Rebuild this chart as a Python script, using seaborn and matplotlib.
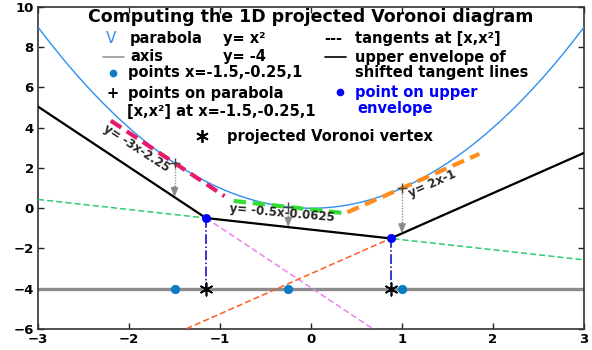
import numpy as np
import pandas as pd
import matplotlib
matplotlib.use("Agg")
import matplotlib.pyplot as plt
from matplotlib.lines import Line2D
import seaborn as sns

# ---- data ----
pts_x = [-1.5, -0.25, 1.0]                    # points on the axis
shifts = [1.7, 1.0, 2.25]                     # downward shift of each tangent line
seg_lo = [-2.2, -0.85, 0.4]                   # extent of the thick tangent segments
seg_hi = [-0.95, 0.35, 1.85]
axis_y = -4
thick_colors = ["#E8186A", "#33DD33", "#FF8C1A"]
thin_colors = ["#EE82EE", "#2ECC71", "#FF5A1F"]
eq_labels = ["y= -3x-2.25", "y= -0.5x-0.0625", "y= 2x-1"]
eq_pos_x = [-1.92, -0.32, 1.33]
eq_pos_y = [3.0, -0.25, 1.2]
eq_rot = [-33, -5, 24]
xticks = [-3, -2, -1, 0, 1, 2, 3]
yticks = [-6, -4, -2, 0, 2, 4, 6, 8, 10]

sns.set_style("ticks")
plt.rcParams["font.family"] = ["DejaVu Sans"]
plt.rcParams["font.weight"] = "bold"

fig = plt.figure(figsize=(5.92, 3.5), dpi=100)
ax = fig.add_axes([38 / 592, 1 - 329 / 350, (584 - 38) / 592, (329 - 7) / 350])

xs = np.linspace(-3, 3, 601)
LP = dict(ax=ax, estimator=None, sort=False)

# parabola
sns.lineplot(x=xs, y=xs ** 2, color="#2E8FF0", lw=1.0, zorder=4, **LP)

# axis line
sns.lineplot(x=[-3, 3], y=[axis_y, axis_y], color="#8C8C8C", lw=2.4, zorder=2, **LP)

slopes = [2 * p for p in pts_x]
icpts = [-p * p for p in pts_x]

# shifted tangent lines (thin dashed)
for m, b, s, c in zip(slopes, icpts, shifts, thin_colors):
    sns.lineplot(x=xs, y=m * xs + b - s, color=c, lw=1.1,
                 linestyle=(0, (4, 2)), zorder=3, **LP)

# tangent segments (thick dashed)
for m, b, lo, hi, c in zip(slopes, icpts, seg_lo, seg_hi, thick_colors):
    sx = np.array([lo, hi])
    sns.lineplot(x=sx, y=m * sx + b, color=c, lw=3.0,
                 linestyle=(0, (3, 1.6)), zorder=5, **LP)

# upper envelope of shifted lines
env = np.max([m * xs + b - s for m, b, s in zip(slopes, icpts, shifts)], axis=0)
sns.lineplot(x=xs, y=env, color="black", lw=1.6, zorder=6, **LP)

# envelope vertices
vx, vy = [], []
for i in range(len(pts_x) - 1):
    m1, b1 = slopes[i], icpts[i] - shifts[i]
    m2, b2 = slopes[i + 1], icpts[i + 1] - shifts[i + 1]
    x0 = (b2 - b1) / (m1 - m2)
    vx.append(x0)
    vy.append(m1 * x0 + b1)

for x0, y0 in zip(vx, vy):
    sns.lineplot(x=[x0, x0], y=[y0, axis_y], color="#0000B8", lw=1.1,
                 linestyle="-.", zorder=6, **LP)

# arrows from parabola points down to shifted lines
for p, s in zip(pts_x, shifts):
    ytop = p * p
    ybot = p * p - s
    sns.lineplot(x=[p, p], y=[ytop, ybot + 0.3], color="#9A9A9A", lw=1.0,
                 linestyle=(0, (1, 1)), zorder=5, **LP)
    ax.annotate("", xy=(p, ybot), xytext=(p, ybot + 0.55),
                arrowprops=dict(arrowstyle="-|>,head_length=0.55,head_width=0.22",
                                color="#8A8A8A", lw=1.0, shrinkA=0, shrinkB=0),
                zorder=6)

# markers
sns.scatterplot(x=pts_x, y=[p * p for p in pts_x], ax=ax, marker="+", s=60,
                color="#444444", linewidth=1.0, zorder=7)
sns.scatterplot(x=pts_x, y=[axis_y] * 3, ax=ax, marker="o", s=38,
                color="#0A7CC4", edgecolor="#0A7CC4", zorder=7)
sns.scatterplot(x=vx, y=vy, ax=ax, marker="o", s=36, color="#0000FF",
                edgecolor="#0000FF", zorder=8)
sns.scatterplot(x=vx, y=[axis_y] * len(vx), ax=ax, marker=(6, 2, 0), s=80,
                color="black", linewidth=1.2, zorder=8)

# equation labels
for t, x0, y0, r in zip(eq_labels, eq_pos_x, eq_pos_y, eq_rot):
    ax.text(x0, y0, t, fontsize=8.5, fontweight="bold", rotation=r,
            rotation_mode="anchor", ha="center", va="center", zorder=9)

ax.set_xlim(-3, 3)
ax.set_ylim(-6, 10)
ax.set_xticks(xticks)
ax.set_yticks(yticks)
ax.tick_params(direction="in", length=4, width=1.0, top=True, right=True,
               labelsize=9.5, pad=3, colors="#222222")
for lab in ax.get_xticklabels() + ax.get_yticklabels():
    lab.set_fontweight("bold")
    lab.set_color("black")
for sp in ax.spines.values():
    sp.set_visible(True)
    sp.set_color("#333333")
    sp.set_linewidth(1.2)
ax.set_xlabel("")
ax.set_ylabel("")

# ---- legend-like text block (figure pixel coordinates) ----
def F(px, py):
    return px / 592, 1 - py / 350

tk = dict(transform=fig.transFigure, fontweight="bold", fontsize=10.5, va="baseline",
          ha="left", color="black")
fig.text(*F(88, 22), "Computing the 1D projected Voronoi diagram", **{**tk, "fontsize": 12.5})
fig.text(*F(106, 43), "V", **{**tk, "fontweight": "normal", "color": "#2E8FF0", "fontsize": 11})
fig.text(*F(130, 43), "parabola", **tk)
fig.text(*F(223, 43), "y= x²", **tk)
fig.lines.append(Line2D([103 / 592, 124 / 592], [1 - 57 / 350] * 2, transform=fig.transFigure,
                        color="#9A9A9A", lw=1.2))
fig.text(*F(130, 61), "axis", **tk)
fig.text(*F(223, 61), "y= -4", **tk)
fig.lines.append(Line2D([113 / 592], [1 - 73 / 350], transform=fig.transFigure, marker="o",
                        ms=4.5, color="#0A7CC4", lw=0))
fig.text(*F(128, 77), "points x=-1.5,-0.25,1", **tk)
fig.text(*F(106, 98), "+", **tk)
fig.text(*F(128, 98), "points on parabola", **tk)
fig.text(*F(127, 116), "[x,x²] at x=-1.5,-0.25,1", **tk)
fig.lines.append(Line2D([202 / 592], [1 - 136 / 350], transform=fig.transFigure, marker=(6, 2, 0),
                        ms=9, color="black", mew=1.3, lw=0))
fig.text(*F(227, 141), "projected Voronoi vertex", **tk)

fig.text(*F(324, 43), "---", **tk)
fig.text(*F(355, 43), "tangents at [x,x²]", **tk)
fig.lines.append(Line2D([325 / 592, 346 / 592], [1 - 57 / 350] * 2, transform=fig.transFigure,
                        color="black", lw=1.2))
fig.text(*F(355, 62), "upper envelope of", **tk)
fig.text(*F(355, 77), "shifted tangent lines", **tk)
fig.lines.append(Line2D([340 / 592], [1 - 92 / 350], transform=fig.transFigure, marker="o",
                        ms=4.5, color="#0000FF", lw=0))
fig.text(*F(355, 97), "point on upper", **{**tk, "color": "#0000FF"})
fig.text(*F(357, 113), "envelope", **{**tk, "color": "#0000FF"})

fig.savefig("out.png", dpi=100)
